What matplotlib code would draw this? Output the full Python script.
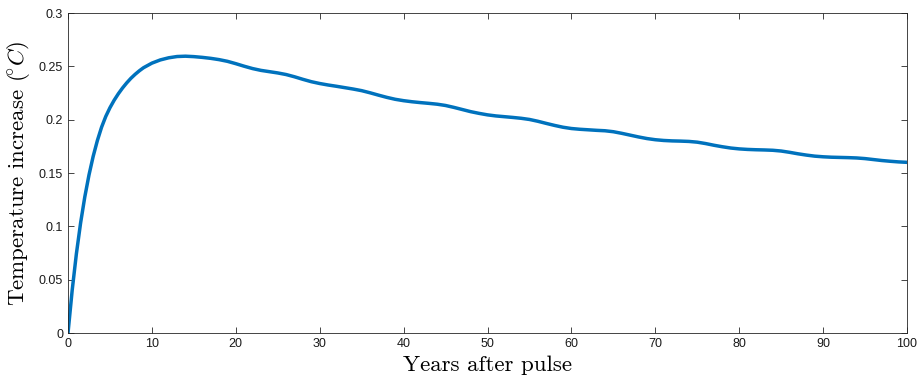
import matplotlib
matplotlib.use("Agg")
import matplotlib.pyplot as plt

# temperature response to an emissions pulse
years = [0, 0.5, 1, 1.5, 2, 2.5, 3, 3.5, 4, 4.5, 5, 5.5, 6, 6.5, 7, 7.5, 8, 8.5, 9, 10,
         11, 12, 13, 14, 15, 16, 17, 18, 19, 20,
         21, 22, 23, 24, 25, 26, 27, 28, 29, 30,
         31, 32, 33, 34, 35, 36, 37, 38, 39, 40,
         41, 42, 43, 44, 45, 46, 47, 48, 49, 50,
         51, 52, 53, 54, 55, 56, 57, 58, 59, 60,
         61, 62, 63, 64, 65, 66, 67, 68, 69, 70,
         71, 72, 73, 74, 75, 76, 77, 78, 79, 80,
         81, 82, 83, 84, 85, 86, 87, 88, 89, 90,
         91, 92, 93, 94, 95, 96, 97, 98, 99, 100]
temp = [0.0, 0.0402, 0.0743, 0.1031, 0.1275, 0.1481, 0.1656, 0.1804, 0.1929, 0.2030, 0.2112,
        0.2182, 0.2243, 0.2297, 0.2345, 0.2388, 0.2425, 0.2458, 0.2487, 0.2530,
        0.2560, 0.2580, 0.2592, 0.2595, 0.2591, 0.2584, 0.2575, 0.2563, 0.2547, 0.2525,
        0.2501, 0.2479, 0.2462, 0.2450, 0.2438, 0.2423, 0.2402, 0.2378, 0.2356, 0.2339,
        0.2325, 0.2313, 0.2300, 0.2287, 0.2272, 0.2252, 0.2230, 0.2209, 0.2191, 0.2178,
        0.2168, 0.2160, 0.2153, 0.2145, 0.2133, 0.2115, 0.2095, 0.2075, 0.2059, 0.2045,
        0.2035, 0.2028, 0.2021, 0.2013, 0.2002, 0.1985, 0.1965, 0.1946, 0.1929, 0.1917,
        0.1910, 0.1905, 0.1900, 0.1896, 0.1887, 0.1872, 0.1855, 0.1838, 0.1823, 0.1812,
        0.1805, 0.1801, 0.1799, 0.1796, 0.1789, 0.1776, 0.1760, 0.1746, 0.1734, 0.1726,
        0.1721, 0.1718, 0.1716, 0.1713, 0.1706, 0.1694, 0.1680, 0.1668, 0.1658, 0.1652,
        0.1648, 0.1646, 0.1644, 0.1641, 0.1635, 0.1626, 0.1617, 0.1610, 0.1604, 0.1600]

x_ticks = [0, 10, 20, 30, 40, 50, 60, 70, 80, 90, 100]
y_ticks = [0, 0.05, 0.1, 0.15, 0.2, 0.25, 0.3]
y_tick_labels = ['0', '0.05', '0.1', '0.15', '0.2', '0.25', '0.3']

plt.rcParams['mathtext.fontset'] = 'cm'

fig = plt.figure(figsize=(9.21, 3.81), dpi=100)
ax = fig.add_axes([68 / 921, 1 - 333 / 381, (907 - 68) / 921, (333 - 13) / 381])

ax.plot(years, temp, color='#0072BD', linewidth=2.5, solid_capstyle='round')

ax.set_xlim(0, 100)
ax.set_ylim(0, 0.3)
ax.set_xticks(x_ticks)
ax.set_xticklabels([str(t) for t in x_ticks], family='Liberation Sans', fontsize=9)
ax.set_yticks(y_ticks)
ax.set_yticklabels(y_tick_labels, family='Liberation Sans', fontsize=9)
ax.tick_params(direction='in', length=4, width=0.6, color='#262626',
               top=True, right=True, pad=3.5, labelcolor='#1a1a1a')
for s in ax.spines.values():
    s.set_color('#262626')
    s.set_linewidth(0.6)

ax.set_xlabel('Years after pulse', family='cmr10', fontsize=16.5, labelpad=4)
ax.set_ylabel(r'Temperature increase $(\!^{\circ}C)$', family='cmr10', fontsize=16.5, labelpad=5)

fig.savefig('out.png', dpi=100)
